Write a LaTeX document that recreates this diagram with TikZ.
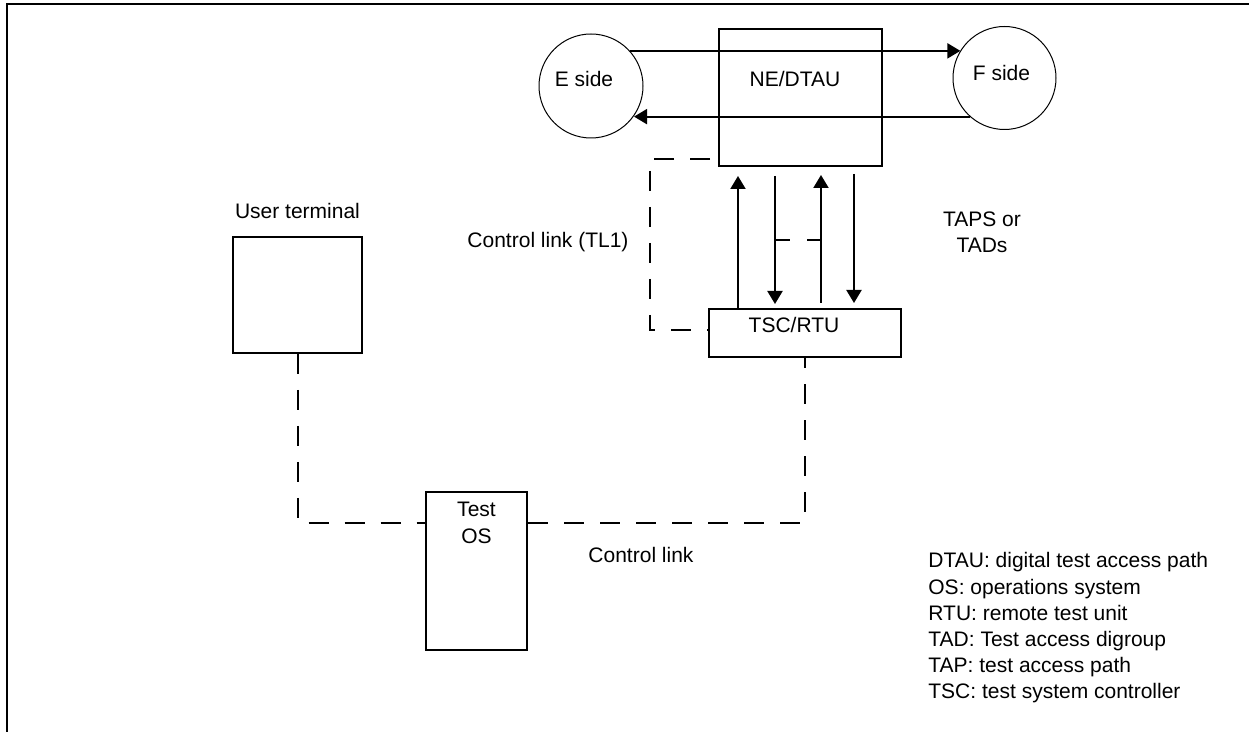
\documentclass[tikz,border=0pt]{standalone}
\usepackage{fontspec}
\setmainfont{Liberation Sans}
\usetikzlibrary{arrows.meta}
\begin{document}
\begin{tikzpicture}[x=0.5pt,y=-0.5pt,
  box/.style={draw,line width=1pt,inner sep=0pt},
  ring/.style={draw,circle,line width=0.5pt,inner sep=0pt},
  txt/.style={inner sep=0pt,anchor=base,font=\fontsize{10.5pt}{13pt}\selectfont},
  lgd/.style={txt,anchor=base west},
  arr/.style={line width=1pt,-{Triangle[length=6.5pt,width=7.5pt]}},
  ctl/.style={line width=1pt,dash pattern=on 10pt off 8pt},
]
\useasboundingbox (0,0) rectangle (1249,732);
\draw[line width=1.1pt] (1249,4) -- (7,4) -- (7,732);

% main blocks
\node[box,minimum width=81.5pt,minimum height=68.5pt] (ne) at (800.5,97.5) {};
\node[ring,minimum size=52pt] (eside) at (591,86) {};
\node[ring,minimum size=51.5pt] (fside) at (1004.5,78) {};
\node[box,minimum width=96pt,minimum height=24pt] (tsc) at (805,333) {};
\node[box,minimum width=64.5pt,minimum height=58pt] (ut) at (297.5,295) {};
\node[box,minimum width=50.5pt,minimum height=79pt] (tos) at (476.5,571) {};

% texts
\node[txt] (net) at (795,87) {NE/DTAU};
\node[txt] (est) at (584,87) {E side};
\node[txt] (fst) at (1001.5,81) {F side};
\node[txt] (tsct) at (794,333) {TSC/RTU};
\node[txt] (utl) at (297.5,219) {User terminal};
\node[txt] (tl1) at (548,248) {Control link (TL1)};
\node[txt] (taps1) at (982,227) {TAPS or};
\node[txt] (taps2) at (982,253) {TADs};
\node[txt] (cl) at (641,563) {Control link};
\node[txt] (tos1) at (476.5,517) {Test};
\node[txt] (tos2) at (476.5,544) {OS};

\node[lgd] (lg1) at (928,568) {DTAU: digital test access path};
\node[lgd] (lg2) at (928,594.2) {OS: operations system};
\node[lgd] (lg3) at (928,620.4) {RTU: remote test unit};
\node[lgd] (lg4) at (928,646.6) {TAD: Test access digroup};
\node[lgd] (lg5) at (928,672.8) {TAP: test access path};
\node[lgd] (lg6) at (928,699) {TSC: test system controller};

% E/F side arrows
\draw[arr] (eside.42) -- (eside.42 -| fside.148);
\draw[arr] (fside.228) -- (fside.228 -| eside.325);

% vertical TAP arrows
\draw[arr,shorten >=4.5pt] (tsc.north -| 738,0) -- (ne.south -| 738,0);
\draw[arr,shorten <=4.5pt,shorten >=2pt] (ne.south -| 775,0) -- (tsc.north -| 775,0);
\draw[arr,shorten <=2.5pt,shorten >=4pt] (tsc.north -| 821,0) -- (ne.south -| 821,0);
\draw[arr,shorten <=3.5pt,shorten >=2.5pt] (ne.south -| 854,0) -- (tsc.north -| 854,0);
\coordinate (m1) at (776,240);
\coordinate (m2) at (821,240);
\draw[line width=1pt,dash pattern=on 7pt off 8.5pt] (m1) -- (m2);

% control links
\draw[ctl,dash phase=14pt] (ne.west |- 0,159) -- (650,159) -- (650,330) -- (tsc.west |- 0,330);
\draw[ctl] (ut.south) -- (ut.south |- 0,523) -- (tos.west |- 0,523);
\draw[ctl] (tos.east |- 0,523) -- (tsc.south |- 0,523) -- (tsc.south);
\end{tikzpicture}
\end{document}
